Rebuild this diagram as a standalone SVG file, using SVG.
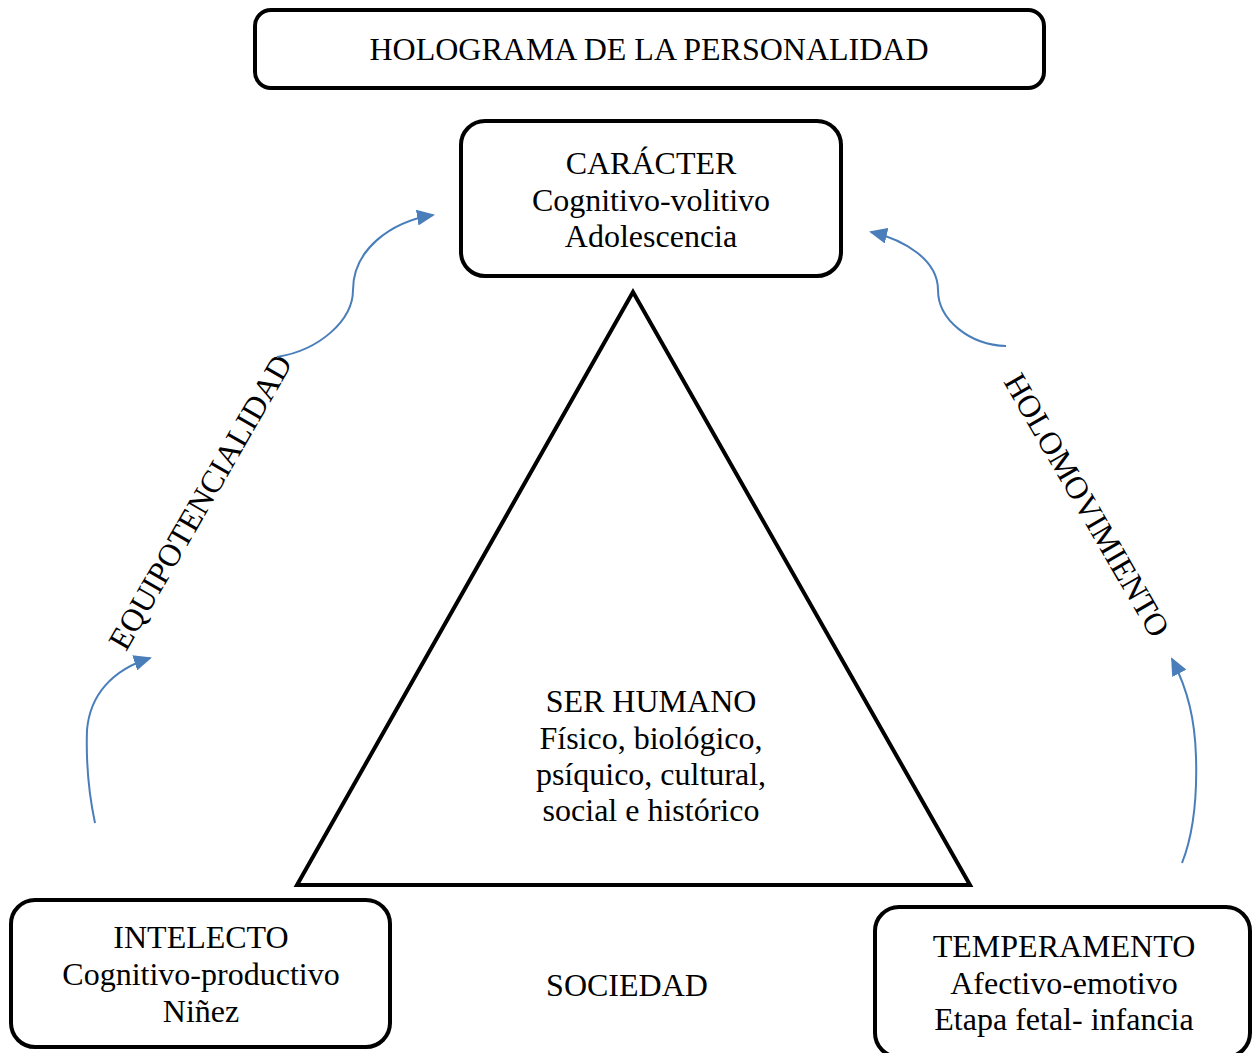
<svg xmlns="http://www.w3.org/2000/svg" width="1253" height="1053" viewBox="0 0 1253 1053">
<style>
.box{fill:#fff;stroke:#000;stroke-width:4}
.t{font-family:"Liberation Serif","Times New Roman",serif;font-size:32px;fill:#000;text-anchor:middle}
.arr{fill:none;stroke:#4a7ebb;stroke-width:2}
</style>
<defs>
<marker id="ah2" markerWidth="18" markerHeight="16" refX="16" refY="8" orient="auto" markerUnits="userSpaceOnUse">
<path d="M0,0 L18,8 L0,16 z" fill="#4a7ebb"/>
</marker>
</defs>
<rect width="1253" height="1053" fill="#fff"/>
<g id="title">
<rect class="box" x="255" y="10" width="789" height="78" rx="16"/>
<text class="t" x="649" y="60">HOLOGRAMA DE LA PERSONALIDAD</text>
</g>
<g id="caracter">
<rect class="box" x="461" y="121" width="380" height="155" rx="24"/>
<text class="t" x="651" y="174">CARÁCTER</text>
<text class="t" x="651" y="211">Cognitivo-volitivo</text>
<text class="t" x="651" y="247">Adolescencia</text>
</g>
<g id="ser-humano">
<polygon points="633,292 297,885 970,885" fill="none" stroke="#000" stroke-width="4"/>
<text class="t" x="651" y="712">SER HUMANO</text>
<text class="t" x="651" y="749">Físico, biológico,</text>
<text class="t" x="651" y="785">psíquico, cultural,</text>
<text class="t" x="651" y="821">social e histórico</text>
</g>
<g id="intelecto">
<rect class="box" x="11" y="900" width="379" height="147" rx="24"/>
<text class="t" x="201" y="948">INTELECTO</text>
<text class="t" x="201" y="985">Cognitivo-productivo</text>
<text class="t" x="201" y="1022">Niñez</text>
</g>
<g id="temperamento">
<rect class="box" x="875" y="907" width="375" height="150" rx="24"/>
<text class="t" x="1064" y="957">TEMPERAMENTO</text>
<text class="t" x="1064" y="994">Afectivo-emotivo</text>
<text class="t" x="1064" y="1030">Etapa fetal- infancia</text>
</g>
<g id="sociedad">
<text class="t" x="627" y="996">SOCIEDAD</text>
</g>
<g id="labels">
<text class="t" transform="translate(200,502) rotate(-60)" y="11">EQUIPOTENCIALIDAD</text>
<text class="t" transform="translate(1087,505) rotate(60)" y="11">HOLOMOVIMIENTO</text>
</g>
<g id="connectors">
<path class="arr" marker-end="url(#ah2)" d="M95,823 C88,790 86,760 87,730 C90,695 112,670 150,658"/>
<path class="arr" marker-end="url(#ah2)" d="M277,357 C320,350 353,320 353,290 C353,250 390,222 433,215"/>
<path class="arr" marker-end="url(#ah2)" d="M1006,346 C970,345 938,320 938,290 C938,260 905,240 871,232"/>
<path class="arr" marker-end="url(#ah2)" d="M1182,863 C1195,830 1197,790 1196,757 C1195,720 1188,690 1172,659"/>
</g>
</svg>
